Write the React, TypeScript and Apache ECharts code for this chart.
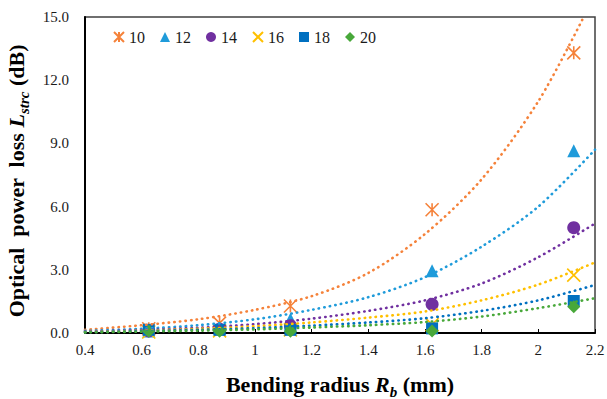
import React, { useEffect, useRef } from 'react';
import * as echarts from 'echarts';

// Measured bending radii (mm)
const radii = [0.625, 0.875, 1.125, 1.625, 2.125];
const seriesNames = ['10', '12', '14', '16', '18', '20'];

// Measured optical power loss (dB)
const loss10 = [0.2, 0.47, 1.28, 5.85, 13.3];
const loss12 = [0.1, 0.2, 0.65, 2.96, 8.65];
const loss14 = [0.1, 0.18, 0.35, 1.36, 5.0];
const loss16 = [0.05, 0.1, 0.15, 0.4, 2.75];
const loss18 = [0.15, 0.15, 0.15, 0.22, 1.52];
const loss20 = [0.08, 0.08, 0.08, 0.1, 1.25];

// Trendlines
const trendX10 = [0.4, 0.6, 0.8, 1.0, 1.2, 1.4, 1.6, 1.8, 2.0, 2.16];
const trend10 = [0.15, 0.37, 0.65, 1.1, 1.75, 2.85, 4.7, 7.3, 11.0, 15.0];
const trendX = [0.4, 0.6, 0.8, 1.0, 1.2, 1.4, 1.6, 1.8, 2.0, 2.2];
const trend12 = [0.1, 0.2, 0.37, 0.65, 1.1, 1.7, 2.65, 4.1, 6.0, 8.7];
const trend14 = [0.07, 0.14, 0.25, 0.42, 0.68, 1.05, 1.55, 2.35, 3.6, 5.2];
const trend16 = [0.05, 0.11, 0.2, 0.32, 0.5, 0.73, 1.02, 1.55, 2.3, 3.35];
const trend18 = [0.04, 0.09, 0.15, 0.23, 0.35, 0.5, 0.7, 1.05, 1.55, 2.28];
const trend20 = [0.03, 0.065, 0.11, 0.17, 0.26, 0.37, 0.52, 0.78, 1.18, 1.65];

const colors = ['#F5823A', '#1F9BDA', '#7030A0', '#FFC000', '#0070C0', '#48A83A'];
const symbols = [
  'path://M0,0L10,10M10,0L0,10M5,0L5,10',
  'triangle',
  'circle',
  'path://M0,0L10,10M10,0L0,10',
  'rect',
  'diamond',
];
const symbolSizes = [13, 13, 13, 13, 12, 13];

const FONT = 'Liberation Serif';

export default function App() {
  const ref = useRef<HTMLDivElement>(null);
  useEffect(() => {
    document.body.style.margin = '0';
    if (!ref.current) return;
    const chart = echarts.init(ref.current, undefined, { renderer: 'svg' });
    const lossData = [loss10, loss12, loss14, loss16, loss18, loss20];
    const trendData = [
      trendX10.map((x, i) => [x, trend10[i]]),
      trendX.map((x, i) => [x, trend12[i]]),
      trendX.map((x, i) => [x, trend14[i]]),
      trendX.map((x, i) => [x, trend16[i]]),
      trendX.map((x, i) => [x, trend18[i]]),
      trendX.map((x, i) => [x, trend20[i]]),
    ];
    const scatterSeries = seriesNames.map((n, k) => ({
      name: n,
      type: 'scatter',
      symbol: symbols[k],
      symbolSize: symbolSizes[k],
      z: 3,
      itemStyle: {
        color: colors[k],
        borderColor: colors[k],
        borderWidth: symbols[k].startsWith('path') ? 1.6 : 0,
        opacity: 1,
      },
      data: radii.map((x, i) => [x, lossData[k][i]]),
    }));
    const lineSeries = seriesNames.map((n, k) => ({
      name: n + ' trend',
      type: 'line',
      showSymbol: false,
      smooth: 0.3,
      z: 4,
      lineStyle: { color: colors[k], width: 2.6, type: [0.4, 5.2], cap: 'round' },
      data: trendData[k],
    }));
    const rich = {
      b: { fontFamily: FONT, fontSize: 22, fontWeight: 'bold', color: '#000', lineHeight: 30 },
      i: { fontFamily: FONT, fontSize: 22, fontWeight: 'bold', fontStyle: 'italic', color: '#000', lineHeight: 30 },
      s: { fontFamily: FONT, fontSize: 15, fontWeight: 'bold', fontStyle: 'italic', color: '#000', lineHeight: 15, verticalAlign: 'bottom' },
    };
    chart.setOption({
      animation: false,
      textStyle: { fontFamily: FONT },
      grid: {
        left: 85,
        right: 12,
        top: 17,
        bottom: 66,
        containLabel: false,
        outerBoundsMode: 'none',
        show: true,
        borderColor: '#404040',
        borderWidth: 1.5,
      },
      legend: {
        data: seriesNames,
        left: 108,
        top: 24,
        itemWidth: 10,
        itemHeight: 10,
        itemGap: 15,
        textStyle: { fontFamily: FONT, fontSize: 16, color: '#1a1a1a' },
      },
      xAxis: {
        type: 'value',
        min: 0.4,
        max: 2.2,
        interval: 0.2,
        name: '{b|Bending radius }{i|R}{s|b}{b| (mm)}',
        nameLocation: 'middle',
        nameGap: 36,
        nameTextStyle: { fontFamily: FONT, rich },
        axisLine: { show: true, lineStyle: { color: '#000', width: 2 } },
        axisTick: { show: true, inside: true, length: 4, lineStyle: { color: '#000' } },
        splitLine: { show: false },
        axisLabel: { fontFamily: FONT, fontSize: 15, color: '#1a1a1a', margin: 9 },
      },
      yAxis: {
        type: 'value',
        min: 0,
        max: 15,
        interval: 3,
        name: '{b|Optical  power  loss }{i|L}{s|strc}{b| (dB)}',
        nameLocation: 'middle',
        nameGap: 43,
        nameRotate: 90,
        nameTextStyle: { fontFamily: FONT, rich, padding: [0, 12, 0, 0] },
        axisLine: { show: true, lineStyle: { color: '#000', width: 2 } },
        axisTick: { show: false },
        splitLine: { show: false },
        axisLabel: {
          fontFamily: FONT,
          fontSize: 15,
          color: '#1a1a1a',
          margin: 16,
          formatter: (v: number) => v.toFixed(1),
        },
      },
      series: [...scatterSeries, ...lineSeries],
    });
    return () => chart.dispose();
  }, []);
  return <div ref={ref} style={{ width: 607, height: 399 }} />;
}
